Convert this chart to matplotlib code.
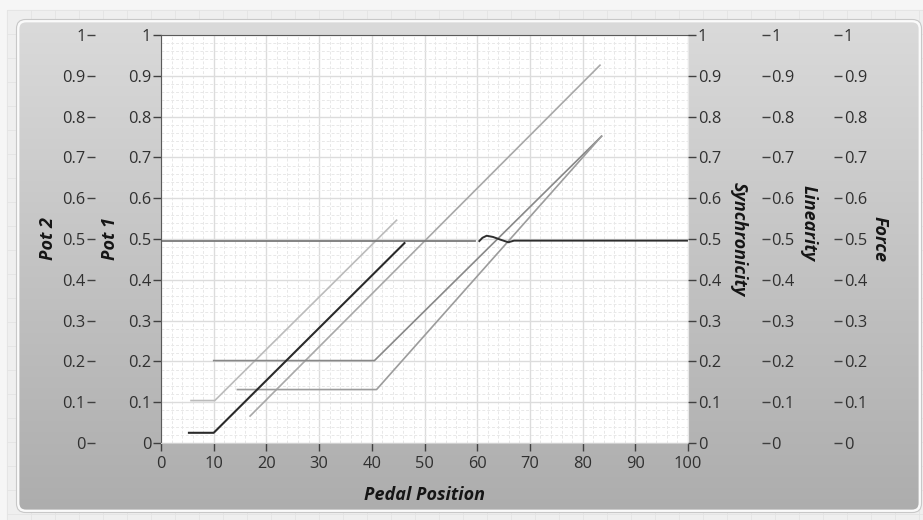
import numpy as np
import matplotlib
matplotlib.use("Agg")
import matplotlib.pyplot as plt
from matplotlib.patches import FancyBboxPatch
from matplotlib.ticker import MultipleLocator

plt.rcParams['font.family'] = ['Open Sans', 'DejaVu Sans']

# data
x_ticks = [0, 10, 20, 30, 40, 50, 60, 70, 80, 90, 100]
y_ticks = [0, 0.1, 0.2, 0.3, 0.4, 0.5, 0.6, 0.7, 0.8, 0.9, 1]

pot1_x = [5.3, 10.0, 46.2]
pot1_y = [0.025, 0.025, 0.490]

pot2_x = [5.7, 10.2, 44.7]
pot2_y = [0.104, 0.104, 0.546]

ref_x = [16.9, 83.3]
ref_y = [0.066, 0.926]

lin_hi_x = [10.0, 40.5, 83.6]
lin_hi_y = [0.202, 0.202, 0.752]

lin_lo_x = [14.5, 40.9, 83.6]
lin_lo_y = [0.131, 0.131, 0.752]

sync_a_x = [0, 59.5]
sync_a_y = [0.495, 0.495]

sync_b_x = [60.4, 61.0, 61.8, 63.0, 64.5, 65.9, 67.0, 100]
sync_b_y = [0.495, 0.503, 0.508, 0.505, 0.498, 0.492, 0.496, 0.496]

W, H = 923, 520
fig = plt.figure(figsize=(W / 100, H / 100), dpi=100)
fig.patch.set_facecolor('#f6f6f6')

# background: patterned area + grey gradient panel
bg = fig.add_axes([0, 0, 1, 1], zorder=-5)
bg.set_xlim(0, W)
bg.set_ylim(H, 0)
bg.axis('off')
bg.add_patch(plt.Rectangle((7, 10), W - 7, H - 10, color='#efefef', zorder=0))
for gx in np.arange(7, W, 24):
    bg.plot([gx, gx], [10, H], color='#e4e4e4', lw=0.6, zorder=1)
for gy in np.arange(10, H, 24):
    bg.plot([7, W], [gy, gy], color='#e4e4e4', lw=0.6, zorder=1)

panel = FancyBboxPatch((18, 21), 902, 490, boxstyle='round,pad=0,rounding_size=8',
                       facecolor='none', edgecolor='#fafafa', lw=2.0, zorder=4)
bg.add_patch(panel)
grad = np.linspace(0, 1, 256).reshape(-1, 1)
im = bg.imshow(grad, cmap=matplotlib.colors.LinearSegmentedColormap.from_list(
    'p', ['#dadada', '#c3c3c3', '#adadad']), extent=(18, 920, 511, 21),
    aspect='auto', zorder=3)
im.set_clip_path(panel)
bg.add_patch(FancyBboxPatch((16.5, 19.5), 905, 493, boxstyle='round,pad=0,rounding_size=9',
                            facecolor='none', edgecolor='#c8c8c8', lw=0.8, zorder=5))

# main plot area
l, r, t, b = 161, 688, 35, 443
ax = fig.add_axes([l / W, 1 - b / H, (r - l) / W, (b - t) / H])
ax.set_facecolor('white')
ax.set_xlim(0, 100)
ax.set_ylim(0, 1)
ax.set_xticks(x_ticks)
ax.set_yticks(y_ticks)
ax.set_yticklabels([f'{v:g}' for v in y_ticks])
ax.xaxis.set_minor_locator(MultipleLocator(2))
ax.yaxis.set_minor_locator(MultipleLocator(0.02))
ax.grid(which='major', color='#dcdcdc', lw=1.0)
ax.grid(which='minor', color='#e8e8e8', lw=0.7, ls=(0, (3, 2)))
ax.tick_params(which='minor', length=0)
ax.tick_params(which='major', direction='out', length=6, width=1, color='#404040',
               labelsize=11.8, labelcolor='#303030', pad=1)
ax.tick_params(axis='x', pad=3)
ax.set_axisbelow(True)
ax.spines['top'].set_color('#5a5a5a')
ax.spines['left'].set_color('#5a5a5a')
ax.spines['bottom'].set_color('#d0d0d0')
ax.spines['right'].set_color('#e8e8e8')

ax.plot(ref_x, ref_y, color='#a8a8a8', lw=1.2)
ax.plot(pot2_x, pot2_y, color='#bbbbbb', lw=1.2)
ax.plot(lin_hi_x, lin_hi_y, color='#888888', lw=1.2)
ax.plot(lin_lo_x, lin_lo_y, color='#9c9c9c', lw=1.2)
ax.plot(sync_a_x, sync_a_y, color='#7a7a7a', lw=1.3)
ax.plot(sync_b_x, sync_b_y, color='#2e2e2e', lw=1.4)
ax.plot(pot1_x, pot1_y, color='#2a2a2a', lw=1.5)

lab = dict(fontsize=13, fontweight='bold', fontstyle='italic', color='#151515')
ax.set_xlabel('Pedal Position', **lab)
ax.xaxis.set_label_coords(0.5, -0.105)
ax.set_ylabel('Pot 1', **lab)
ax.yaxis.set_label_coords(-0.097, 0.5)
ax.yaxis.label.set_va('center')

# extra value axes
extra = [('Pot 2', 'left', -0.125, -0.214, 0.5),
         ('Synchronicity', 'right', 1.0, 1.097, 0.5),
         ('Linearity', 'right', 1.140, 1.228, 0.54),
         ('Force', 'right', 1.277, 1.364, 0.5)]
for name, side, pos, lx, ly in extra:
    tw = ax.twinx()
    tw.set_ylim(0, 1)
    tw.set_yticks(y_ticks)
    tw.set_yticklabels([f'{v:g}' for v in y_ticks])
    tw.yaxis.set_ticks_position(side)
    tw.yaxis.set_label_position(side)
    for s in tw.spines.values():
        s.set_visible(False)
    tw.spines[side].set_position(('axes', pos))
    tw.tick_params(direction='out', length=6, width=1, color='#404040',
                   labelsize=11.8, labelcolor='#303030', pad=1)
    tw.set_ylabel(name, rotation=90 if side == 'left' else 270, **lab)
    tw.yaxis.set_label_coords(lx, ly)
    tw.yaxis.label.set_va('center')
    tw.yaxis.label.set_ha('center')

fig.savefig('out.png', dpi=100)
